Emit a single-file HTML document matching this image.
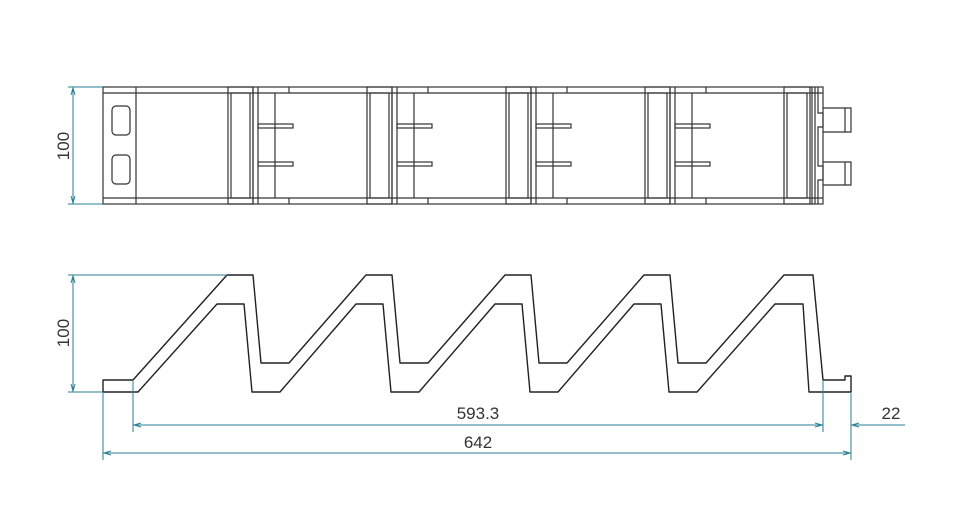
<!DOCTYPE html>
<html><head><style>body{margin:0;background:#fff}svg{display:block}</style></head><body>
<svg width="960" height="518" viewBox="0 0 960 518" xmlns="http://www.w3.org/2000/svg">
<defs>
<g id="mod" fill="none" stroke="#333" stroke-width="1.2">
<rect x="228" y="87" width="25" height="117"/>
<rect x="231" y="93" width="19" height="105"/>
<line x1="258" y1="87" x2="258" y2="204"/>
<line x1="275" y1="93" x2="275" y2="198"/>
<rect x="258" y="124" width="35" height="4"/>
<rect x="258" y="162" width="35" height="4"/>
<line x1="289" y1="87" x2="289" y2="93"/>
<line x1="289" y1="198" x2="289" y2="204"/>
<line x1="253" y1="87" x2="253" y2="204"/>
</g>
</defs>
<g fill="none" stroke="#333" stroke-width="1.2">
<rect x="103" y="87" width="720" height="117"/>
<line x1="103" y1="93" x2="823" y2="93"/>
<line x1="103" y1="198" x2="823" y2="198"/>
<line x1="136" y1="87" x2="136" y2="204"/>
<rect x="112" y="106" width="18" height="29" rx="4"/>
<rect x="112" y="155" width="18" height="29" rx="4"/>
<rect x="784" y="87" width="26" height="117"/>
<rect x="787" y="93" width="20" height="105"/>
<line x1="812" y1="87" x2="812" y2="204"/>
<line x1="815" y1="87" x2="815" y2="204"/>
<polyline points="818,87 818,113 823,113 823,127 818,127 818,166 823,166 823,180 818,180 818,204"/>
<polyline points="823,108 851,108 851,132 823,132"/>
<line x1="845" y1="108" x2="845" y2="132"/>
<polyline points="823,162 851,162 851,185 823,185"/>
<line x1="845" y1="162" x2="845" y2="185"/>
</g>
<use href="#mod"/>
<use href="#mod" transform="translate(139,0)"/>
<use href="#mod" transform="translate(278,0)"/>
<use href="#mod" transform="translate(417,0)"/>
<g fill="none" stroke="#222" stroke-width="1.4" stroke-linejoin="round">
<path d="M103,392 L103,380 L133,380 L227,275 L253,275 L261,363 L289,363 L366,275 L392,275 L400,363 L428,363 L505,275 L531,275 L539,363 L567,363 L644,275 L670,275 L678,363 L706,363 L784,275 L813,275 L823,380 L845,380 L845,376 L851,376 L851,392 L809,392 L803,304 L775,304 L697,392 L669,392 L661,304 L634,304 L558,392 L530,392 L522,304 L495,304 L419,392 L391,392 L383,304 L356,304 L280,392 L252,392 L244,304 L217,304 L138,392 Z"/>
</g>
<g stroke="#2a7f96" stroke-width="1" fill="none">
<line x1="68" y1="87" x2="103" y2="87"/>
<line x1="68" y1="204" x2="103" y2="204"/>
<line x1="73" y1="87" x2="73" y2="204"/>
<line x1="68" y1="275" x2="227" y2="275"/>
<line x1="68" y1="392" x2="103" y2="392"/>
<line x1="73" y1="275" x2="73" y2="392"/>
<line x1="133" y1="380" x2="133" y2="432"/>
<line x1="103" y1="392" x2="103" y2="460"/>
<line x1="823" y1="380" x2="823" y2="432"/>
<line x1="851" y1="392" x2="851" y2="460"/>
<line x1="133" y1="425" x2="823" y2="425"/>
<line x1="851" y1="425" x2="905" y2="425"/>
<line x1="103" y1="453" x2="851" y2="453"/>
<polyline points="75,95 73,88 71,95"/><polyline points="75,196 73,203 71,196"/>
<polyline points="75,283 73,276 71,283"/><polyline points="75,384 73,391 71,384"/>
<polyline points="141,423 134,425 141,427"/><polyline points="815,423 822,425 815,427"/>
<polyline points="859,423 852,425 859,427"/>
<polyline points="111,451 104,453 111,455"/><polyline points="843,451 850,453 843,455"/>
</g>
<g font-family="Liberation Sans, sans-serif" font-size="17" fill="#333">
<text transform="translate(69,146) rotate(-90)" text-anchor="middle">100</text>
<text transform="translate(69,333) rotate(-90)" text-anchor="middle">100</text>
<text x="478" y="419" text-anchor="middle">593.3</text>
<text x="478" y="448" text-anchor="middle">642</text>
<text x="891" y="419" text-anchor="middle">22</text>
</g>
</svg>
</body></html>
